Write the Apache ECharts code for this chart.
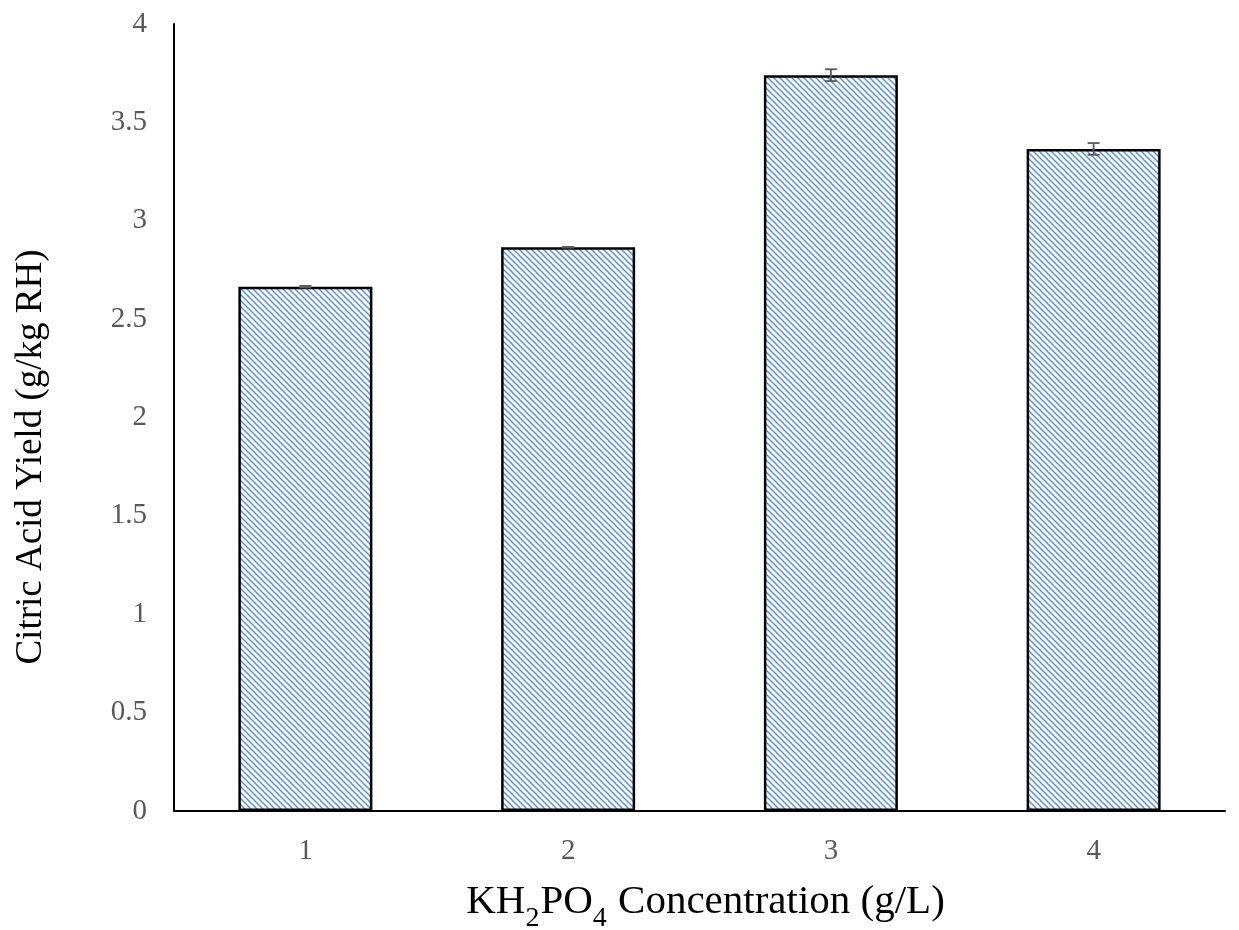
<!DOCTYPE html>
<html><head><meta charset="utf-8">
<script src="https://cdn.jsdelivr.net/npm/echarts@6/dist/echarts.min.js"></script>
<style>html,body{margin:0;padding:0;background:#fff}#c{width:1239px;height:930px}</style>
</head><body><div id="c"></div>
<script>
const categories = ['1', '2', '3', '4'];
const yieldValues = [2.665, 2.865, 3.74, 3.365];
const errorValues = [0.004, 0.002, 0.03, 0.03];
const yTicks = [0, 0.5, 1, 1.5, 2, 2.5, 3, 3.5, 4];

function makeHatch() {
  const s = 6;
  const c = document.createElement('canvas');
  c.width = s; c.height = s;
  const g = c.getContext('2d');
  g.fillStyle = '#f7fbff';
  g.fillRect(0, 0, s, s);
  g.strokeStyle = '#5f92d1';
  g.lineWidth = 1.5;
  for (let k = -1; k <= 1; k++) {
    g.beginPath();
    g.moveTo(k * s - 1, -1);
    g.lineTo(k * s + s + 1, s + 1);
    g.stroke();
  }
  return c;
}

const chart = echarts.init(document.getElementById('c'), null, {renderer: 'canvas'});
const font = '"Liberation Serif", "Times New Roman", serif';
chart.setOption({
  animation: false,
  backgroundColor: '#fff',
  grid: {left: 174, right: 14, top: 24, bottom: 119, containLabel: false, outerBoundsMode: 'none'},
  xAxis: {
    type: 'category',
    data: categories,
    axisLine: {lineStyle: {color: '#000', width: 2}},
    axisTick: {show: false},
    axisLabel: {color: '#595959', fontSize: 29, fontFamily: font, margin: 26},
    name: '{n|KH}{s|2}{n|PO}{s|4}{n| Concentration (g/L)}',
    nameLocation: 'middle',
    nameGap: 71,
    nameTextStyle: {
      fontFamily: font, color: '#000',
      padding: [0, 0, 0, 12],
      rich: {
        n: {fontSize: 41, fontFamily: font, color: '#000', lineHeight: 48, verticalAlign: 'top'},
        s: {fontSize: 28, fontFamily: font, color: '#000', lineHeight: 48, verticalAlign: 'top', padding: [23, 1, 0, 0]}
      }
    }
  },
  yAxis: {
    type: 'value',
    min: 0, max: 4, interval: 0.5,
    axisLine: {show: true, lineStyle: {color: '#000', width: 2}},
    axisTick: {show: false},
    splitLine: {show: false},
    axisLabel: {color: '#595959', fontSize: 29, fontFamily: font, margin: 27,
      formatter: v => yTicks.includes(v) ? String(v) : ''}
  },
  graphic: [{
    type: 'text',
    x: 31, y: 457,
    rotation: Math.PI / 2,
    style: {text: 'Citric Acid Yield (g/kg RH)', fontSize: 37, fontFamily: font, fill: '#000',
      align: 'center', verticalAlign: 'middle'}
  }],
  series: [
    {
      type: 'bar',
      data: yieldValues,
      barWidth: 134,
      itemStyle: {color: {image: makeHatch(), repeat: 'repeat'}, borderColor: '#000', borderWidth: 2.5},
      z: 2
    },
    {
      type: 'custom',
      data: yieldValues.map((v, i) => [i, v, errorValues[i]]),
      z: 5,
      renderItem: function (params, api) {
        const x = api.value(0), v = api.value(1), e = api.value(2);
        const top = api.coord([x, v + e]);
        const bot = api.coord([x, v - e]);
        const hw = 6;
        const st = {stroke: '#595959', lineWidth: 1.8};
        return {type: 'group', children: [
          {type: 'line', shape: {x1: top[0], y1: top[1], x2: bot[0], y2: bot[1]}, style: st},
          {type: 'line', shape: {x1: top[0] - hw, y1: top[1], x2: top[0] + hw, y2: top[1]}, style: st},
          {type: 'line', shape: {x1: bot[0] - hw, y1: bot[1], x2: bot[0] + hw, y2: bot[1]}, style: st}
        ]};
      }
    }
  ]
});
</script></body></html>
